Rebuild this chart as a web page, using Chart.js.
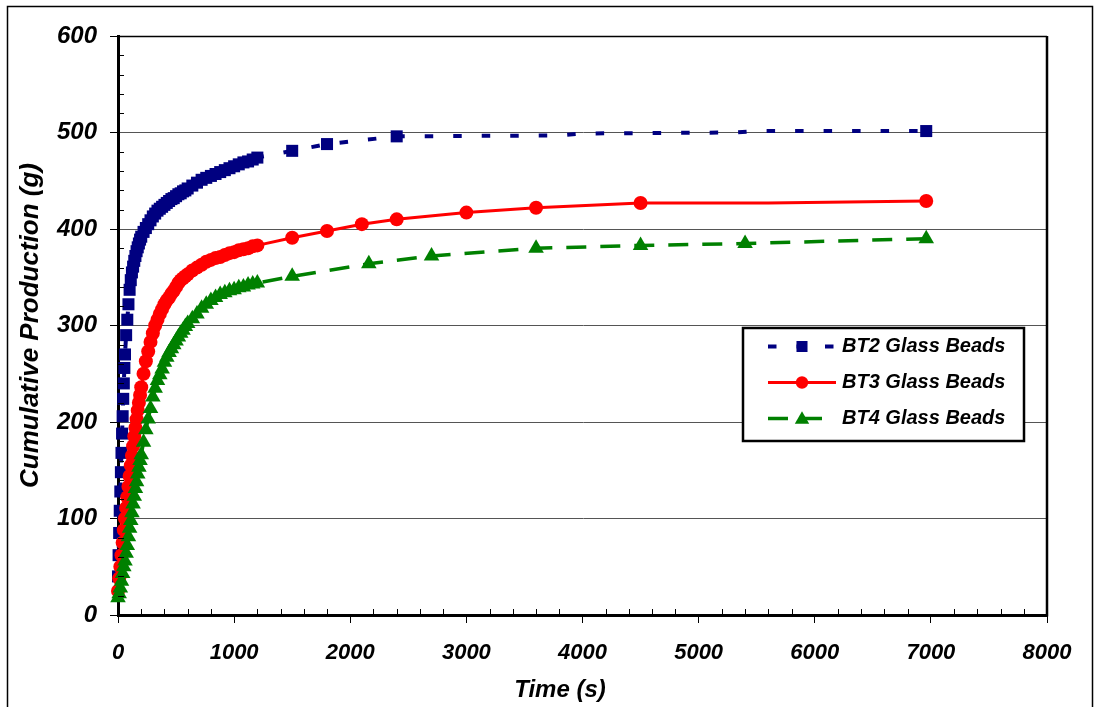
<!DOCTYPE html>
<html>
<head>
<meta charset="utf-8">
<script src="https://cdn.jsdelivr.net/npm/chart.js"></script>
<style>
  html, body { margin: 0; padding: 0; background: #fff; }
  #wrap { width: 1099px; height: 707px; position: relative; }
</style>
</head>
<body>
<div id="wrap"><canvas id="c" width="1099" height="707"></canvas></div>
<script>
// ---------- data ----------
const seriesLabels = ['BT2 Glass Beads', 'BT3 Glass Beads', 'BT4 Glass Beads'];
const xTitle = 'Time (s)';
const yTitle = 'Cumulative Production (g)';

const bt2Time = [0,5,10,15,20,25,30,35,40,45,50,55,60,
  70,80,90,100,110,120,130,140,150,160,170,180,190,200,
  220,240,260,280,300,320,340,360,380,400,420,440,460,480,500,520,540,560,580,600,
  640,680,720,760,800,840,880,920,960,1000,1040,1080,1120,1160,1200,
  1500,1800,2400,3800,4000,5300,5500,6960];
const bt2Prod = [40,62,85,108,128,148,168,188,206,224,240,256,270,
  290,306,322,337,347,355,361,367,372,377,381,385,389,392,
  397,401,405,409,413,416,419,421,423,425,427,429,431,432,434,436,437,439,440,442,
  445,448,451,453,455,457,459,461,463,465,467,469,470,472,474,
  481,488,496,497,499,500,501.5,501.5];
const bt2Unmarked = [3800,4000,5300,5500];

const bt3Time = [0,10,20,30,40,50,60,70,80,90,100,110,120,130,140,150,160,170,180,190,200,
  220,240,260,280,300,320,340,360,380,400,420,440,460,480,500,520,540,560,580,600,
  640,680,720,760,800,840,880,920,960,1000,1040,1080,1120,1160,1200,
  1500,1800,2100,2400,3000,3600,4500,5600,6960];
const bt3Prod = [25,38,50,62,75,88,100,111,122,133,144,155,165,175,185,194,203,212,220,228,236,
  250,263,273,283,292,300,306,312,317,322,326,329,333,336,340,344,347,349,351,353,
  357,360,363,366,368,370,371,373,375,376,378,379,380,382,383,
  391,398,405,410,417,422,427,427,429];
const bt3Unmarked = [5600];

const bt4Time = [0,10,20,30,40,50,60,70,80,90,100,110,120,130,140,150,160,170,180,190,200,
  220,240,260,280,300,320,340,360,380,400,420,440,460,480,500,520,540,560,580,600,
  640,680,720,760,800,840,880,920,960,1000,1040,1080,1120,1160,1200,
  1500,2160,2700,3600,4500,5400,6960];
const bt4Prod = [18,22,28,35,43,50,56,64,72,81,90,98,106,115,123,131,138,146,153,160,166,
  179,192,203,214,226,235,243,249,255,262,267,272,276,280,284,288,292,295,299,302,
  307,312,318,322,326,329,332,334,336,337,339,340,342,343,344,
  351,364,372,380,383,385,390];
const bt4Unmarked = [];

const xTickStep = 1000, xMax = 8000;
const yTickStep = 100, yMax = 600;

// ---------- build ----------
const FONT = '"Liberation Sans", Arial, sans-serif';
const toPts = (t, v) => t.map((x, i) => ({ x, y: v[i] }));
const radiusFn = (unmarked, r) => ctx => (ctx.raw && unmarked.includes(ctx.raw.x)) ? 0 : r;

const styles = [
  { color: '#000080', style: 'rect', r: 8.5, dash: [8.5, 20], width: 4 },
  { color: '#FF0000', style: 'circle', r: 7, dash: [], width: 3 },
  { color: '#008000', style: 'triangle', r: 9, dash: [20, 14], width: 3.5 }
];
const legendR = [7.8, 6.2, 8.3];

const datasets = [
  [bt2Time, bt2Prod, bt2Unmarked],
  [bt3Time, bt3Prod, bt3Unmarked],
  [bt4Time, bt4Prod, bt4Unmarked]
].map(([t, v, um], i) => ({
  label: seriesLabels[i],
  data: toPts(t, v),
  borderColor: styles[i].color,
  backgroundColor: styles[i].color,
  borderWidth: styles[i].width,
  borderDash: styles[i].dash,
  pointStyle: styles[i].style,
  pointRadius: radiusFn(um, styles[i].r),
  pointBorderWidth: 0,
  pointBackgroundColor: styles[i].color,
  tension: 0,
  clip: false,
  order: 2 - i
}));

function drawMarker(ctx, style, x, y, r, color) {
  ctx.save();
  ctx.fillStyle = color;
  ctx.beginPath();
  if (style === 'rect') {
    const s = r / Math.SQRT2;
    ctx.rect(x - s, y - s, 2 * s, 2 * s);
  } else if (style === 'circle') {
    ctx.arc(x, y, r, 0, Math.PI * 2);
  } else {
    for (let k = 0; k < 3; k++) {
      const a = k * 2 * Math.PI / 3;
      const px = x + Math.sin(a) * r, py = y - Math.cos(a) * r;
      k ? ctx.lineTo(px, py) : ctx.moveTo(px, py);
    }
    ctx.closePath();
  }
  ctx.fill();
  ctx.restore();
}

const decor = {
  id: 'decor',
  beforeDraw(chart) {
    const ctx = chart.ctx;
    ctx.save();
    ctx.fillStyle = '#fff';
    ctx.fillRect(0, 0, chart.width, chart.height);
    ctx.restore();
  },
  afterDraw(chart) {
    const { ctx, chartArea: ca, scales: { x, y } } = chart;
    ctx.save();
    ctx.strokeStyle = '#000';
    ctx.lineWidth = 1;
    // minor ticks (inside)
    ctx.beginPath();
    for (let v = 0; v <= yMax; v += yTickStep / 5) {
      if (v % yTickStep === 0) continue;
      const py = Math.round(y.getPixelForValue(v)) + 0.5;
      ctx.moveTo(ca.left, py); ctx.lineTo(ca.left + 6, py);
    }
    for (let t = 0; t <= xMax; t += xTickStep / 5) {
      if (t % xTickStep === 0) continue;
      const px = Math.round(x.getPixelForValue(t)) + 0.5;
      ctx.moveTo(px, ca.bottom); ctx.lineTo(px, ca.bottom - 6);
    }
    ctx.stroke();
    // plot area top/right border
    ctx.beginPath();
    ctx.lineWidth = 1.5;
    ctx.moveTo(ca.left, Math.round(ca.top) + 0.5);
    ctx.lineTo(ca.right, Math.round(ca.top) + 0.5);
    ctx.stroke();
    ctx.beginPath();
    ctx.lineWidth = 2.5;
    ctx.moveTo(ca.right, ca.top);
    ctx.lineTo(ca.right, ca.bottom + 1.5);
    ctx.stroke();
    // outer frame
    ctx.lineWidth = 1.5;
    ctx.strokeRect(7.5, 6.5, 1085, 730);

    // x axis title
    ctx.fillStyle = '#000';
    ctx.font = 'italic bold 24px ' + FONT;
    ctx.textAlign = 'center';
    ctx.textBaseline = 'middle';
    ctx.fillText(xTitle, 560, 690);

    // legend
    const lx = 743, ly = 328, lw = 281, lh = 113;
    ctx.fillStyle = '#fff';
    ctx.fillRect(lx, ly, lw, lh);
    ctx.lineWidth = 2.5;
    ctx.strokeStyle = '#000';
    ctx.strokeRect(lx, ly, lw, lh);
    const rows = [346.5, 382.5, 418.5];
    chart.data.datasets.forEach((ds, i) => {
      const st = styles[i];
      const ry = rows[i];
      ctx.save();
      ctx.strokeStyle = st.color;
      ctx.lineWidth = st.width;
      ctx.setLineDash(st.dash);
      ctx.beginPath();
      ctx.moveTo(768, ry); ctx.lineTo(836, ry);
      ctx.stroke();
      ctx.restore();
      drawMarker(ctx, st.style, 802, ry + (st.style === 'triangle' ? 1 : 0), legendR[i], st.color);
      ctx.fillStyle = '#000';
      ctx.font = 'italic bold 20px ' + FONT;
      ctx.textAlign = 'left';
      ctx.textBaseline = 'middle';
      ctx.fillText(ds.label, 842, ry);
    });
    ctx.restore();
  }
};

new Chart(document.getElementById('c'), {
  type: 'line',
  data: { datasets },
  plugins: [decor],
  options: {
    responsive: false,
    animation: false,
    devicePixelRatio: 1,
    layout: { padding: { left: 0, right: 52, top: 36, bottom: 0 }, autoPadding: false },
    plugins: { legend: { display: false }, tooltip: { enabled: false } },
    scales: {
      x: {
        type: 'linear', min: 0, max: xMax, position: 'bottom',
        afterFit(s) { s.height = 92; },
        ticks: {
          stepSize: xTickStep, autoSkip: false, maxRotation: 0, padding: 17, color: '#000',
          callback: v => String(v),
          font: { family: FONT, size: 22, style: 'italic', weight: 'bold' }
        },
        grid: { drawOnChartArea: false, tickLength: 8, color: '#000', tickColor: '#000', lineWidth: 1 },
        border: { display: true, color: '#000', width: 3 }
      },
      y: {
        type: 'linear', min: 0, max: yMax,
        afterFit(s) { s.width = 118; },
        ticks: {
          stepSize: yTickStep, padding: 13, color: '#000',
          callback: v => String(v),
          font: { family: FONT, size: 24, style: 'italic', weight: 'bold' }
        },
        grid: { color: '#555', tickColor: '#000', tickLength: 8, lineWidth: 1 },
        border: { display: true, color: '#000', width: 3 },
        title: {
          display: true, text: yTitle, color: '#000', padding: { top: 15, bottom: 0 },
          font: { family: FONT, size: 26, style: 'italic', weight: 'bold' }
        }
      }
    }
  }
});
</script>
</body>
</html>
